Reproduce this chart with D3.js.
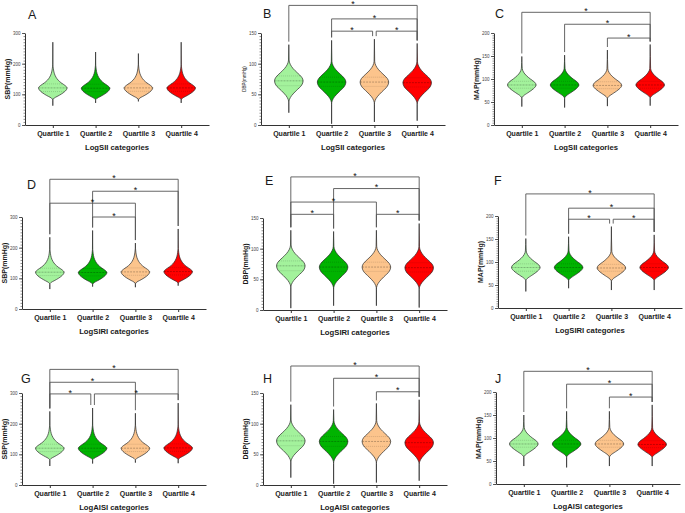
<!DOCTYPE html>
<html>
<head>
<meta charset="utf-8">
<script src="https://cdn.jsdelivr.net/npm/d3@7"></script>
<style>
  body { margin: 0; background: #fff; }
  svg { display: block; font-family: "Liberation Sans", Arial, sans-serif; }
</style>
</head>
<body>
<svg id="chart" width="685" height="513"></svg>
<script>
// ---- data ----
var categories = ["Quartile 1", "Quartile 2", "Quartile 3", "Quartile 4"];
var panelLetters = ["A", "B", "C", "D", "E", "F", "G", "H", "J"];
var panelMeasures = ["SBP", "DBP", "MAP", "SBP", "DBP", "MAP", "SBP", "DBP", "MAP"];
var yLabels = ["SBP(mmHg)", "DBP(mmHg)", "MAP(mmHg)", "SBP(mmHg)", "DBP(mmHg)", "MAP(mmHg)", "SBP(mmHg)", "DBP(mmHg)", "MAP(mmHg)"];
var xTitles = ["LogSII categories", "LogSII categories", "LogSII categories",
               "LogSIRI categories", "LogSIRI categories", "LogSIRI categories",
               "LogAISI categories", "LogAISI categories", "LogAISI categories"];

var sbpTicks = [0, 100, 200, 300];
var dbpTicks = [0, 50, 100, 150];
var mapTicks = [0, 50, 100, 150, 200];

// violin outline: [offset from median, relative half width]
var sbpShape = [[-40, 0], [-33, 0.1], [-28, 0.3], [-20, 0.6], [-10, 0.88], [0, 1], [8, 0.85],
                [16, 0.6], [25, 0.38], [35, 0.22], [48, 0.1], [62, 0.04], [75, 0.01]];
var dbpShape = [[-36, 0], [-30, 0.05], [-24, 0.2], [-16, 0.52], [-7, 0.9], [0, 1], [6, 0.9],
                [13, 0.6], [20, 0.3], [27, 0.1], [34, 0.02]];
var mapShape = [[-29, 0], [-24, 0.1], [-17, 0.42], [-8, 0.82], [0, 1], [6, 0.9],
                [13, 0.6], [20, 0.33], [28, 0.12], [36, 0.03]];

// per panel, per quartile
var tailMax = [[270, 238, 233, 270], [131, 138, 140, 133], [149, 152, 163, 175],
               [234, 256, 215, 261], [130, 128, 130, 141], [151, 155, 177, 159],
               [240, 251, 234, 267], [131, 123, 133, 139], [150, 158, 158, 172]];
var tailMin = [[63, 72, 77, 72], [20, 2, 5, 7], [40, 38, 41, 42],
               [65, 73, 71, 76], [3, 7, 7, 4], [36, 43, 39, 39],
               [62, 70, 73, 71], [12, 2, 4, 7], [39, 36, 39, 39]];
var medians = [[121, 120, 121, 121], [72, 70, 70, 69], [87, 87, 86, 87],
               [120, 119, 121, 122], [72, 70, 70, 69], [88, 88, 87, 88],
               [120, 120, 120, 121], [72, 71, 71, 69], [87, 87, 87, 86]];
var lowerQ = [[109, 109, 110, 110], [64, 63, 63, 62], [80, 80, 79, 80],
              [109, 108, 110, 111], [64, 63, 63, 62], [80, 80, 80, 80],
              [109, 109, 109, 110], [64, 63, 63, 62], [80, 80, 80, 79]];
var upperQ = [[134, 133, 134, 134], [80, 78, 78, 77], [95, 95, 94, 95],
              [133, 132, 134, 135], [80, 78, 78, 77], [96, 96, 95, 96],
              [133, 133, 133, 134], [80, 79, 79, 77], [95, 95, 95, 94]];

// significance brackets: [from quartile, to quartile, level in axis units]
var brackets = [
  [],
  [[0, 3, 195], [1, 3, 173], [1, 2, 153], [2, 3, 153]],
  [[0, 3, 245], [1, 3, 219], [2, 3, 189]],
  [[0, 3, 423], [1, 3, 384], [0, 2, 345], [1, 2, 300]],
  [[0, 3, 217], [1, 3, 198], [0, 2, 176], [0, 1, 156], [2, 3, 156]],
  [[0, 3, 248], [1, 3, 217], [1, 2, 193], [2, 3, 193]],
  [[0, 3, 377], [0, 2, 335], [0, 1, 297], [1, 3, 297]],
  [[0, 3, 194], [1, 3, 174], [2, 3, 152]],
  [[0, 3, 245], [1, 3, 217], [2, 3, 189]]
];

// ---- layout ----
var fills = ["#a3f29c", "#00b300", "#fcc48c", "#ff0000"];
var lefts = [25, 261, 494, 22, 263, 498, 22, 263, 496];
var tops = [33, 33, 33, 217, 218, 216, 393, 393, 392];
var letterX = [28, 263, 495, 27, 265, 494, 21, 263, 495];
var letterY = [19, 18, 18, 189, 185, 185, 383, 383, 383];
var plotW = 184, plotH = 92, halfW = 14.3;

var svg = d3.select("#chart");
svg.append("rect").attr("width", 685).attr("height", 513).attr("fill", "#fff");

function measureInfo(m) {
  if (m == "SBP") return {ticks: sbpTicks, shape: sbpShape, minor: 10};
  if (m == "DBP") return {ticks: dbpTicks, shape: dbpShape, minor: 5};
  return {ticks: mapTicks, shape: mapShape, minor: 5};
}

// half width at a value, linear between shape points
function widthAt(shape, med, v) {
  var off = v - med;
  for (var i = 0; i < shape.length - 1; i++) {
    var a = shape[i], b = shape[i + 1];
    if (off >= a[0] && off <= b[0]) {
      return a[1] + (b[1] - a[1]) * (off - a[0]) / (b[0] - a[0]);
    }
  }
  return 0;
}

panelLetters.forEach(function(letter, p) {
  var info = measureInfo(panelMeasures[p]);
  var yMax = info.ticks[info.ticks.length - 1];
  var g = svg.append("g").attr("transform", "translate(" + lefts[p] + "," + tops[p] + ")");

  var x = d3.scalePoint().domain(categories).range([0, plotW]).padding(0.65);
  var y = d3.scaleLinear().domain([0, yMax]).range([plotH, 0]);

  // y axis: minor then major ticks
  var minorAxis = g.append("g")
    .call(d3.axisLeft(y).tickValues(d3.range(0, yMax + 1, info.minor)).tickSize(1.5).tickSizeOuter(0).tickFormat(""));
  minorAxis.select(".domain").remove();
  minorAxis.selectAll("line").attr("stroke", "#444").attr("stroke-width", 0.6);

  var yAxis = g.append("g")
    .call(d3.axisLeft(y).tickValues(info.ticks).tickSize(3).tickSizeOuter(0).tickPadding(1.5));
  yAxis.select(".domain").attr("stroke", "#333").attr("stroke-width", 1);
  yAxis.selectAll("line").attr("stroke", "#333").attr("stroke-width", 0.8);
  yAxis.selectAll("text").attr("font-size", "4.5px").attr("fill", "#444");

  // x axis
  var xAxis = g.append("g")
    .attr("transform", "translate(0," + plotH + ")")
    .call(d3.axisBottom(x).tickSize(3).tickSizeOuter(0).tickPadding(3));
  xAxis.select(".domain").attr("stroke", "#333").attr("stroke-width", 1);
  xAxis.selectAll("line").attr("stroke", "#333");
  xAxis.selectAll("text").attr("font-size", "7px").attr("font-weight", "bold").attr("fill", "#1a1a1a");

  // violins
  categories.forEach(function(cat, i) {
    var cx = x(cat), med = medians[p][i];
    var pts = [[tailMin[p][i], 0]];
    info.shape.forEach(function(s) {
      var v = med + s[0];
      if (v > tailMin[p][i] && v < tailMax[p][i]) pts.push([v, s[1]]);
    });
    pts.push([tailMax[p][i], 0]);
    pts.sort(function(a, b) { return b[0] - a[0]; });

    var area = d3.area()
      .curve(d3.curveMonotoneY)
      .y(function(d) { return y(d[0]); })
      .x0(function(d) { return cx - d[1] * halfW; })
      .x1(function(d) { return cx + d[1] * halfW; });

    g.append("path")
      .attr("d", area(pts))
      .attr("fill", fills[i])
      .attr("stroke", "#2a2a2a")
      .attr("stroke-width", 0.7);

    [[lowerQ[p][i], "#000", "1,1", 0.3], [upperQ[p][i], "#000", "1,1", 0.3], [med, "#000", "2,1", 0.5]].forEach(function(q) {
      var w = widthAt(info.shape, med, q[0]) * halfW;
      g.append("line")
        .attr("x1", cx - w).attr("x2", cx + w)
        .attr("y1", y(q[0])).attr("y2", y(q[0]))
        .attr("stroke", q[1]).attr("stroke-opacity", q[3]).attr("stroke-width", 0.5)
        .attr("stroke-dasharray", q[2]);
    });
  });

  // significance brackets
  brackets[p].forEach(function(b, k) {
    var lvl = b[2];
    function inset(c, dir) {
      var shared = brackets[p].some(function(o, j) {
        return j != k && o[2] == lvl && (o[0] == c || o[1] == c);
      });
      return x(categories[c]) + (shared ? dir * 1.8 : 0);
    }
    var xa = inset(b[0], 1), xb = inset(b[1], -1);
    var yl = y(lvl);
    var ya = y(tailMax[p][b[0]]) - 3, yb = y(tailMax[p][b[1]]) - 3;
    g.append("path")
      .attr("d", "M" + xa + "," + ya + "V" + yl + "H" + xb + "V" + yb)
      .attr("fill", "none")
      .attr("stroke", "#555")
      .attr("stroke-width", 0.9);
    g.append("text")
      .attr("x", (xa + xb) / 2)
      .attr("y", yl + 1.6)
      .attr("text-anchor", "middle")
      .attr("font-size", "9px")
      .attr("fill", "#111")
      .text("*");
  });

  // y label
  var small = (letter == "B");
  g.append("text")
    .attr("transform", "translate(-17," + (plotH / 2) + ") rotate(-90)")
    .attr("text-anchor", "middle")
    .attr("dy", "0.35em")
    .attr("font-size", small ? "4.5px" : "7px")
    .attr("font-weight", small ? "normal" : "bold")
    .attr("fill", "#1a1a1a")
    .text(yLabels[p]);

  // x title
  g.append("text")
    .attr("x", plotW / 2)
    .attr("y", plotH + 25)
    .attr("text-anchor", "middle")
    .attr("font-size", "7.7px")
    .attr("font-weight", "bold")
    .attr("fill", "#1a1a1a")
    .text(xTitles[p]);

  // panel letter
  svg.append("text")
    .attr("x", letterX[p])
    .attr("y", letterY[p])
    .attr("font-size", "12.5px")
    .attr("fill", "#1a1a1a")
    .text(letter);
});
</script>
</body>
</html>
